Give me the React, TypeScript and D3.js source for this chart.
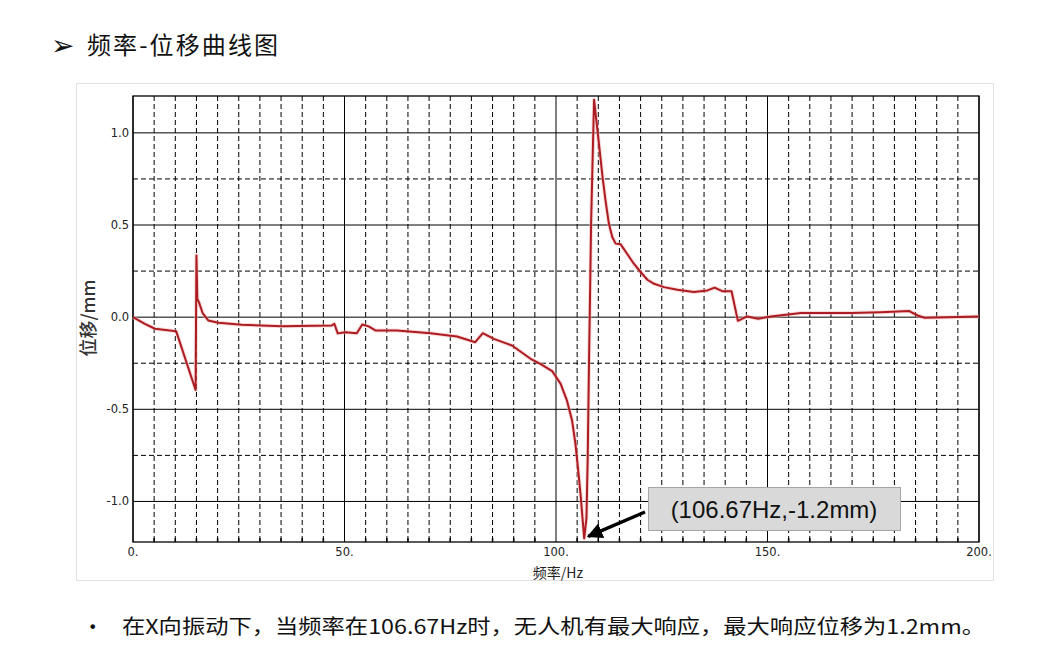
import React from "react";
import * as d3 from "d3";

// frequency (Hz) vs displacement (mm)
const freq = [
	0, 2.8, 5.2, 10.2, 14.8, 15.0, 15.2, 15.6, 16.5, 17.8, 20.2, 25.7, 35.2, 47.0, 47.6, 48.4, 50.2, 52.9, 54.2,
	55.7, 57.3, 62.4, 70.3, 76.6, 80.9, 82.7, 85.3, 89.6, 94.0, 96.3, 99.1, 101.1, 102.6, 103.8, 104.6, 105.1,
	105.8, 106.3, 106.67, 107.2, 107.5, 107.8, 108.1, 108.3, 108.6, 109.0, 109.8, 111.0, 111.7, 112.5, 113.3,
	114.1, 115.3, 116.8, 118.4, 120.0, 121.6, 123.2, 125.5, 128.7, 132.6, 135.8, 137.5, 139.3, 141.5, 143.0,
	145.2, 147.8, 150.8, 157.9, 169.7, 176.8, 183.5, 185.5, 187.1, 192.6, 200,
];
const disp = [
	0, -0.036, -0.063, -0.076, -0.395, 0.335, 0.1, 0.08, 0.02, -0.018, -0.03, -0.041, -0.049, -0.045, -0.036,
	-0.088, -0.082, -0.087, -0.04, -0.05, -0.072, -0.072, -0.087, -0.105, -0.136, -0.087, -0.118, -0.154, -0.226,
	-0.253, -0.293, -0.362, -0.453, -0.561, -0.688, -0.797, -0.96, -1.1, -1.2, -1.09, -0.76, -0.253, 0.2, 0.51,
	0.8, 1.18, 1.015, 0.761, 0.634, 0.508, 0.435, 0.399, 0.395, 0.344, 0.29, 0.245, 0.203, 0.181, 0.163, 0.149,
	0.136, 0.145, 0.16, 0.141, 0.141, -0.02, 0.004, -0.009, 0.004, 0.022, 0.022, 0.027, 0.033, 0.009, -0.003, 0,
	0.004,
];

const xMajor = [0, 50, 100, 150, 200];
const xMajorLabels = ["0.", "50.", "100.", "150.", "200."];
const xMinor = d3.range(5, 200, 5).filter((v) => v % 50 !== 0);
const yMajor = [1.0, 0.5, 0.0, -0.5, -1.0];
const yMajorLabels = ["1.0", "0.5", "0.0", "-0.5", "-1.0"];
const yMinor = [0.75, 0.25, -0.25, -0.75];

const peak = { f: 106.67, d: -1.2, label: "(106.67Hz,-1.2mm)" };

const W = 1052;
const H = 655;
const plot = { left: 133, right: 979, top: 96, bottom: 542 };

export default function App() {
	const x = d3.scaleLinear().domain([0, 200]).range([plot.left, plot.right]);
	const y = d3.scaleLinear().domain([-1.22, 1.2]).range([plot.bottom, plot.top]);

	const pts = freq.map((f, i) => [f, disp[i]] as [number, number]);
	const line = d3
		.line<[number, number]>()
		.x((d) => x(d[0]))
		.y((d) => y(d[1]));

	const tickFont = "'DejaVu Sans', Verdana, sans-serif";
	const ax = x(peak.f) + 4;
	const ay = y(peak.d) - 2;

	return (
		<svg width={W} height={H} style={{ position: "absolute", left: 0, top: 0, background: "#fff" }}>
			<defs>
				<marker id="arr" viewBox="0 0 10 10" refX="9" refY="5" markerWidth="4.5" markerHeight="4.5" orient="auto">
					<path d="M0,0 L10,5 L0,10 z" fill="#000" />
				</marker>
			</defs>

			{/* heading */}
			<text x={51} y={55} fontSize={28} fontFamily="'DejaVu Sans', sans-serif" fill="#111">
				➢
			</text>
			<text
				x={87}
				y={54}
				fontSize={24}
				fontFamily="'Noto Sans CJK SC', sans-serif"
				fill="#111"
				textLength={191}
				lengthAdjust="spacing"
			>
				频率-位移曲线图
			</text>

			{/* chart frame */}
			<rect x={76.5} y={83.5} width={917} height={497} fill="#fff" stroke="#e2e2e2" />

			{/* grid */}
			{xMinor.map((v) => (
				<line key={"xm" + v} x1={x(v)} x2={x(v)} y1={plot.top} y2={plot.bottom} stroke="#000" strokeDasharray="5,3" />
			))}
			{yMinor.map((v) => (
				<line key={"ym" + v} x1={plot.left} x2={plot.right} y1={y(v)} y2={y(v)} stroke="#000" strokeDasharray="5,3" />
			))}
			{xMajor.map((v) => (
				<line key={"xM" + v} x1={x(v)} x2={x(v)} y1={plot.top} y2={plot.bottom} stroke="#000" />
			))}
			{yMajor.map((v) => (
				<line key={"yM" + v} x1={plot.left} x2={plot.right} y1={y(v)} y2={y(v)} stroke="#000" />
			))}
			<rect
				x={plot.left}
				y={plot.top}
				width={plot.right - plot.left}
				height={plot.bottom - plot.top}
				fill="none"
				stroke="#000"
				strokeWidth={1.3}
			/>
			{xMinor.map((v) => (
				<line key={"xt" + v} x1={x(v)} x2={x(v)} y1={plot.bottom} y2={plot.bottom - 4} stroke="#000" strokeWidth={1.5} />
			))}

			{/* tick labels */}
			{xMajor.map((v, i) => (
				<text key={"xl" + v} x={x(v)} y={556} fontSize={11.5} fontFamily={tickFont} textAnchor="middle" fill="#222">
					{xMajorLabels[i]}
				</text>
			))}
			{yMajor.map((v, i) => (
				<text key={"yl" + v} x={129} y={y(v) + 4} fontSize={11.5} fontFamily={tickFont} textAnchor="end" fill="#222">
					{yMajorLabels[i]}
				</text>
			))}

			{/* axis titles */}
			<text x={558} y={578} fontSize={14} fontFamily="'Noto Sans CJK SC', sans-serif" textAnchor="middle" fill="#222">
				频率/Hz
			</text>
			<text
				transform={`translate(95,318) rotate(-90)`}
				fontSize={18}
				fontWeight={500}
				fontFamily="'Noto Sans CJK SC', sans-serif"
				textAnchor="middle"
				fill="#333"
			>
				位移/mm
			</text>

			{/* curve */}
			<path d={line(pts) ?? ""} fill="none" stroke="#f4b6b6" strokeWidth={4} strokeLinejoin="round" opacity={0.5} />
			<path d={line(pts) ?? ""} fill="none" stroke="#ad1c22" strokeWidth={2} strokeLinejoin="round" />

			{/* annotation */}
			<rect x={648.5} y={487.5} width={252} height={43} fill="#d9d9d9" stroke="#a6a6a6" />
			<text x={774} y={518} fontSize={24} fontFamily="'Liberation Sans', Arial, sans-serif" textAnchor="middle" fill="#111">
				{peak.label}
			</text>
			<line x1={645} y1={512} x2={ax} y2={ay} stroke="#000" strokeWidth={3.5} markerEnd="url(#arr)" />

			{/* note */}
			<text x={88} y={633} fontSize={16} fontFamily="'DejaVu Sans', sans-serif" fill="#111">
				•
			</text>
			<text
				x={122}
				y={634}
				fontSize={20}
				fontFamily="'Noto Sans CJK SC', sans-serif"
				fill="#111"
				textLength={863}
				lengthAdjust="spacingAndGlyphs"
			>
				在X向振动下，当频率在106.67Hz时，无人机有最大响应，最大响应位移为1.2mm。
			</text>
		</svg>
	);
}
